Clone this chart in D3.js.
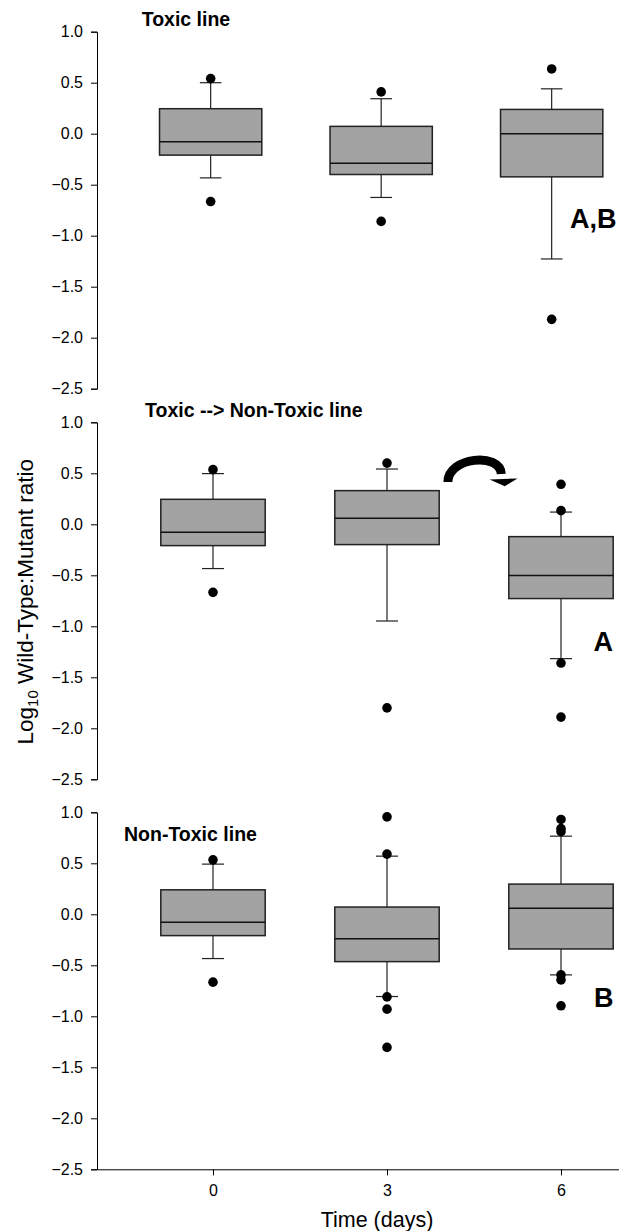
<!DOCTYPE html>
<html>
<head>
<meta charset="utf-8">
<script src="https://cdnjs.cloudflare.com/ajax/libs/d3/7.8.5/d3.min.js"></script>
<style>
  body { margin: 0; background: #fff; }
  svg text { font-family: "Liberation Sans", Arial, sans-serif; fill: #000; }
</style>
</head>
<body>
<div id="chart"></div>
<script>
// ---- data ----
const days = [0, 3, 6];
const yTicks = [1.0, 0.5, 0.0, -0.5, -1.0, -1.5, -2.0, -2.5];
const panelTitles = ["Toxic line", "Toxic --> Non-Toxic line", "Non-Toxic line"];
const groupLetters = ["A,B", "A", "B"];

// [lower whisker, Q1, median, Q3, upper whisker] for days 0, 3, 6
const toxicBoxes = [
  [-0.433, -0.21, -0.08, 0.245, 0.50],
  [-0.625, -0.40, -0.29, 0.072, 0.343],
  [-1.228, -0.423, 0.0, 0.238, 0.44]
];
const toxicOutliers = [[0.54, -0.665], [0.41, -0.86], [0.635, -1.82]];

const switchBoxes = [
  [-0.434, -0.209, -0.078, 0.245, 0.497],
  [-0.948, -0.199, 0.059, 0.33, 0.542],
  [-1.317, -0.728, -0.503, -0.121, 0.12]
];
const switchOutliers = [[0.536, -0.667], [0.60, -1.80], [0.392, 0.134, -1.36, -1.89]];

const nonToxicBoxes = [
  [-0.434, -0.209, -0.078, 0.24, 0.492],
  [-0.806, -0.464, -0.239, 0.071, 0.57],
  [-0.594, -0.34, 0.059, 0.296, 0.766]
];
const nonToxicOutliers = [
  [0.534, -0.665],
  [0.955, 0.59, -0.81, -0.93, -1.305],
  [0.93, 0.84, 0.81, -0.594, -0.643, -0.897]
];

const panelBoxes = [toxicBoxes, switchBoxes, nonToxicBoxes];
const panelOutliers = [toxicOutliers, switchOutliers, nonToxicOutliers];

// ---- layout ----
const width = 619, height = 1231;
const axisX = 97;
const panelTop = [31.7, 422.3, 812.3];
const panelRight = [608.5, 619, 619];
const panelH = 357;
const titleX = [141.7, 145, 124];
const titleDy = [-5.7, -5.6, 28.4];
const letterEndX = [616.5, 613, 613.5];
const letterVal = [-0.92, -1.24, -0.91];

// curved arrow in the middle panel, in [day, value]
const arrowCurve = [[4.05, 0.415], [4.05, 0.66], [4.95, 0.709], [4.97, 0.493]];
const arrowHead = [[4.77, 0.44], [5.25, 0.45], [5.03, 0.372]];

const svg = d3.select("#chart").append("svg")
  .attr("width", width)
  .attr("height", height);

panelBoxes.forEach((boxes, p) => {
  const top = panelTop[p];
  const y = d3.scaleLinear().domain([-2.5, 1]).range([top + panelH, top]);
  const x = d3.scaleLinear().domain([-2, 7]).range([axisX, panelRight[p]]);
  const halfW = x(0.9) - x(0);
  const capHalf = x(0.19) - x(0);

  // y axis
  const ya = svg.append("g")
    .attr("transform", "translate(" + axisX + ",0)")
    .call(d3.axisLeft(y).tickValues(yTicks).tickFormat(d3.format(".1f")).tickSize(6).tickPadding(8));
  ya.attr("font-size", null).attr("font-family", null);
  ya.selectAll("text").style("font-size", "16px");
  ya.selectAll("path, line").attr("stroke", "#000");

  // title
  svg.append("text")
    .attr("x", titleX[p])
    .attr("y", top + titleDy[p])
    .style("font-size", "19.5px")
    .style("font-weight", "bold")
    .text(panelTitles[p]);

  // boxes
  const g = svg.append("g");
  boxes.forEach((b, i) => {
    const cx = x(days[i]);
    g.append("line")
      .attr("x1", cx).attr("x2", cx)
      .attr("y1", y(b[0])).attr("y2", y(b[4]))
      .attr("stroke", "#222").attr("stroke-width", 1.2);
    [b[0], b[4]].forEach(v => {
      g.append("line")
        .attr("x1", cx - capHalf).attr("x2", cx + capHalf)
        .attr("y1", y(v)).attr("y2", y(v))
        .attr("stroke", "#222").attr("stroke-width", 1.2);
    });
    g.append("rect")
      .attr("x", cx - halfW)
      .attr("y", y(b[3]))
      .attr("width", 2 * halfW)
      .attr("height", y(b[1]) - y(b[3]))
      .attr("fill", "#a3a3a3")
      .attr("stroke", "#222")
      .attr("stroke-width", 1.5);
    g.append("line")
      .attr("x1", cx - halfW).attr("x2", cx + halfW)
      .attr("y1", y(b[2])).attr("y2", y(b[2]))
      .attr("stroke", "#111").attr("stroke-width", 1.5);

    g.selectAll(null)
      .data(panelOutliers[p][i])
      .enter().append("circle")
      .attr("cx", cx)
      .attr("cy", d => y(d))
      .attr("r", 4.8)
      .attr("fill", "#000");
  });

  // group letter
  svg.append("text")
    .attr("x", letterEndX[p])
    .attr("y", y(letterVal[p]))
    .attr("text-anchor", "end")
    .style("font-size", "27px")
    .style("font-weight", "bold")
    .text(groupLetters[p]);

  if (p === 1) {
    const c = arrowCurve.map(d => [x(d[0]), y(d[1])]);
    const path = d3.path();
    path.moveTo(c[0][0], c[0][1]);
    path.bezierCurveTo(c[1][0], c[1][1], c[2][0], c[2][1], c[3][0], c[3][1]);
    svg.append("path")
      .attr("d", path.toString())
      .attr("fill", "none")
      .attr("stroke", "#000")
      .attr("stroke-width", 9);
    svg.append("polygon")
      .attr("points", arrowHead.map(d => x(d[0]) + "," + y(d[1])).join(" "))
      .attr("fill", "#000");
  }

  if (p === 2) {
    const xa = svg.append("g")
      .attr("transform", "translate(0," + (top + panelH) + ")")
      .call(d3.axisBottom(x).tickValues(days).tickSize(6).tickSizeOuter(0).tickPadding(9.5));
    xa.attr("font-size", null).attr("font-family", null);
    xa.selectAll("text").style("font-size", "16px");
    xa.selectAll("path, line").attr("stroke", "#000");
  }
});

// axis titles
svg.append("text")
  .attr("x", 377)
  .attr("y", 1227)
  .attr("text-anchor", "middle")
  .style("font-size", "21.5px")
  .text("Time (days)");

const yl = svg.append("text")
  .attr("transform", "translate(32.7,601.7) rotate(-90)")
  .attr("text-anchor", "middle")
  .style("font-size", "22.5px");
yl.append("tspan").text("Log");
yl.append("tspan").attr("dy", 5).style("font-size", "15px").text("10");
yl.append("tspan").attr("dy", -5).text(" Wild-Type:Mutant ratio");
</script>
</body>
</html>
